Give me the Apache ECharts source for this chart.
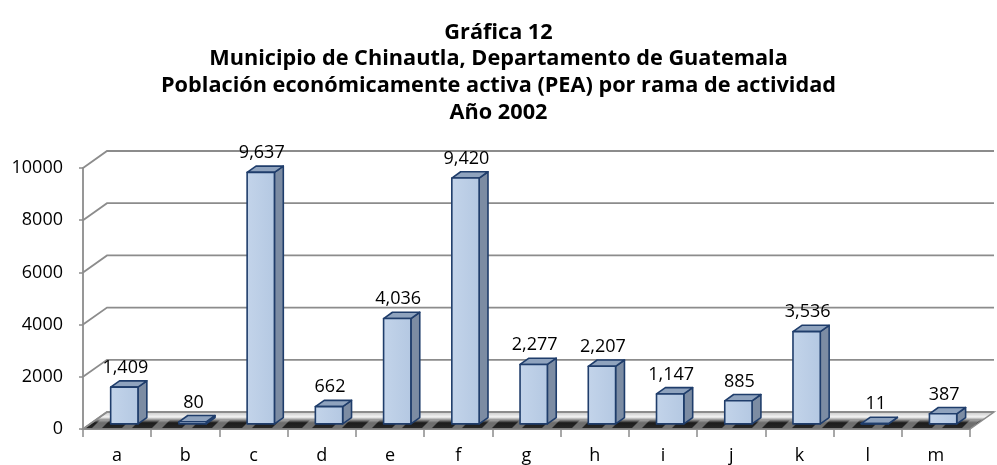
<!DOCTYPE html>
<html>
<head>
<meta charset="utf-8">
<script src="https://cdn.jsdelivr.net/npm/echarts@6/dist/echarts.min.js"></script>
<style>
html,body{margin:0;padding:0;background:#fff}
#chart{width:997px;height:465px}
</style>
</head>
<body>
<div id="chart"></div>
<script>
// datos de la grafica
var categories = ['a','b','c','d','e','f','g','h','i','j','k','l','m'];
var values = [1409,80,9637,662,4036,9420,2277,2207,1147,885,3536,11,387];
var yTicks = [0,2000,4000,6000,8000,10000];
var titleLines = [
	'Gráfica 12',
	'Municipio de Chinautla, Departamento de Guatemala',
	'Población económicamente activa (PEA) por rama de actividad',
	'Año 2002'
];

var FONT = 'Open Sans';
var DX = 24, DY = -17;          // profundidad de la pared (efecto 3D)
var BAR_F = 0.3, BAR_D = 0.37;  // posicion y grosor de la barra en la profundidad
var GRID_COLOR = '#8c8c8c';

function fmt(v) {
	return String(v).replace(/\B(?=(\d{3})+(?!\d))/g, ',');
}

// textura del piso (franjas diagonales)
function floorPattern() {
	var c = document.createElement('canvas');
	c.width = 30; c.height = 18;
	var ctx = c.getContext('2d');
	var g = ctx.createLinearGradient(0, 0, 0, 18);
	g.addColorStop(0, '#c8c8c8');
	g.addColorStop(0.28, '#f4f4f4');
	g.addColorStop(0.42, '#9a9a9a');
	g.addColorStop(0.6, '#1c1c1c');
	g.addColorStop(0.88, '#262626');
	g.addColorStop(1, '#c0c0c0');
	ctx.fillStyle = g;
	ctx.fillRect(0, 0, 30, 18);
	ctx.fillStyle = 'rgba(190,190,190,0.5)';
	ctx.beginPath();
	ctx.moveTo(2, 16); ctx.lineTo(12, 16); ctx.lineTo(20, 8); ctx.lineTo(10, 8);
	ctx.closePath();
	ctx.fill();
	return c;
}
var floorImg = floorPattern();

//paredes y piso
function renderWall(params, api) {
	var cs = params.coordSys;
	var v = api.value(1);
	var y = api.coord([0, v])[1];
	var x0 = cs.x, x1 = cs.x + cs.width;
	var children = [];
	if (v === 0) {
		children.push({
			type : 'polygon',
			shape : { points : [[x0, y], [x1, y], [x1 + DX, y + DY], [x0 + DX, y + DY]] },
			style : {
				fill : { image : floorImg, repeat : 'repeat', y : y + DY },
				stroke : GRID_COLOR,
				lineWidth : 1.5
			}
		});
	}
	children.push({
		type : 'polyline',
		shape : { points : [[x0, y], [x0 + DX, y + DY], [x1 + DX, y + DY]] },
		style : { fill : null, stroke : GRID_COLOR, lineWidth : 1.8 }
	});
	return { type : 'group', children : children };
}

//barras 3D
function renderBar(params, api) {
	var p = api.coord([api.value(0), api.value(1)]);
	var base = api.coord([api.value(0), 0]);
	var band = api.size([1, 0])[0];
	var w = band * 0.4;
	var ox = DX * BAR_F, oy = DY * BAR_F;
	var dx = DX * BAR_D, dy = DY * BAR_D;
	var xl = p[0] - w / 2 + ox, xr = xl + w;
	var yt = p[1] + oy, yb = base[1] + oy;
	var edge = { stroke : '#1f3d6b', lineWidth : 1.6, lineJoin : 'round' };
	return {
		type : 'group',
		children : [
			{
				type : 'polygon',
				shape : { points : [[xr, yt], [xr + dx, yt + dy], [xr + dx, yb + dy], [xr, yb]] },
				style : Object.assign({ fill : '#7c8ca3' }, edge)
			},
			{
				type : 'polygon',
				shape : { points : [[xl, yt], [xr, yt], [xr + dx, yt + dy], [xl + dx, yt + dy]] },
				style : Object.assign({ fill : '#8fa3be' }, edge)
			},
			{
				type : 'rect',
				shape : { x : xl, y : yt, width : w, height : yb - yt },
				style : Object.assign({
					fill : new echarts.graphic.LinearGradient(0, 0, 1, 0, [
						{ offset : 0, color : '#c3d4ea' },
						{ offset : 1, color : '#b4c8e2' }
					])
				}, edge)
			},
			{
				type : 'text',
				style : {
					x : (xl + xr) / 2 + 1,
					y : yt + dy - 4,
					text : fmt(api.value(1)),
					align : 'center',
					verticalAlign : 'bottom',
					fill : '#000',
					font : '18px "' + FONT + '"'
				}
			}
		]
	};
}

var myChart = echarts.init(document.getElementById('chart'));
var option = {
	backgroundColor : '#fff',
	animation : false,
	title : {
		text : titleLines.join('\n'),
		left : 'center',
		top : 14,
		textStyle : {
			fontFamily : FONT,
			fontWeight : 'bold',
			fontSize : 21.7,
			lineHeight : 26.7,
			color : '#000'
		}
	},
	grid : {
		left : 83,
		right : 27,
		top : 168,
		bottom : 35
	},
	xAxis : {
		type : 'category',
		data : categories,
		axisLine : { lineStyle : { color : GRID_COLOR, width : 1.8 } },
		axisTick : { show : true, length : 8, lineStyle : { color : GRID_COLOR, width : 1.5 } },
		axisLabel : { margin : 18, fontFamily : FONT, fontSize : 18, color : '#000' },
		splitLine : { show : false }
	},
	yAxis : {
		type : 'value',
		min : 0,
		max : 10000,
		interval : 2000,
		axisLine : { show : true, lineStyle : { color : GRID_COLOR, width : 1.8 } },
		axisTick : { show : true, length : 4, lineStyle : { color : GRID_COLOR, width : 1.5 } },
		axisLabel : {
			margin : 20, fontFamily : FONT, fontSize : 18, color : '#000',
			formatter : function(v) { return String(v); }
		},
		splitLine : { show : false }
	},
	series : [
		{
			type : 'custom',
			name : 'pared',
			renderItem : renderWall,
			data : yTicks.map(function(v) { return [0, v]; }),
			encode : { x : 0, y : 1 },
			silent : true,
			z : 1
		},
		{
			type : 'custom',
			name : 'PEA',
			renderItem : renderBar,
			data : values.map(function(v, i) { return [i, v]; }),
			encode : { x : 0, y : 1 },
			z : 5
		}
	]
};
myChart.setOption(option);//dibujar
</script>
</body>
</html>
